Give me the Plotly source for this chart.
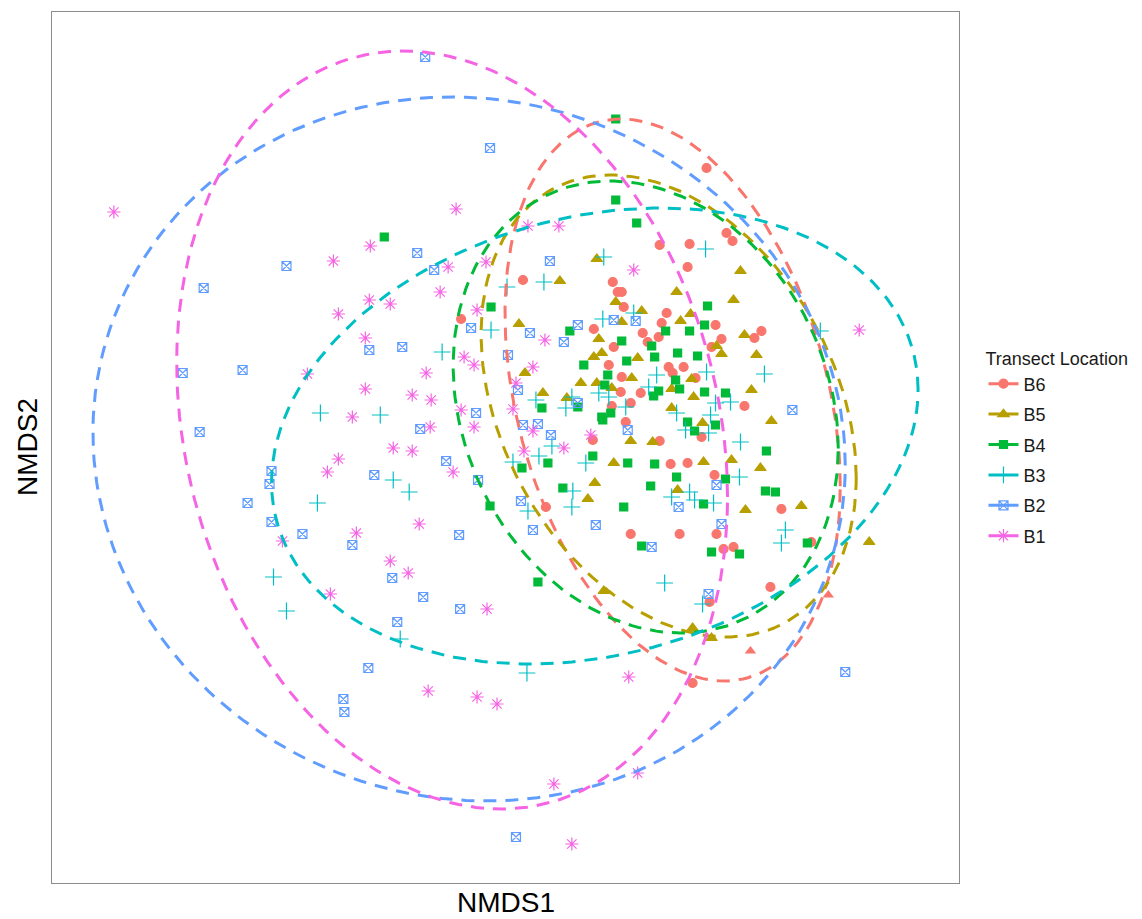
import numpy as np
import plotly.graph_objects as go

# Ordination scores (plot reading units; converted to NMDS units below)
groups = ["B6", "B5", "B4", "B3", "B2", "B1"]
colors = {"B6": "#F8766D", "B5": "#B79F00", "B4": "#00BA38",
          "B3": "#00BFC4", "B2": "#619CFF", "B1": "#F564E3"}
symbols = {"B6": "circle", "B5": "triangle-up", "B4": "square",
           "B3": "cross-thin-open", "B2": "square-x-open", "B1": "asterisk-open"}

b6_x = [708, 728, 734, 661, 691, 524, 614, 619, 462, 595, 615, 610, 613, 689, 623, 625, 668, 663, 644, 649,
        660, 717, 723, 713, 756, 763, 670, 674, 685, 697, 623, 622, 642, 632, 746, 594, 547, 661, 703, 672,
        689, 716, 632, 681, 718, 725, 735, 772, 627, 783, 813, 694, 711]
b6_y = [168, 233, 241, 245, 244, 280, 282, 292, 319, 329, 347, 365, 406, 267, 292, 307, 313, 323, 333, 342,
        337, 325, 339, 347, 338, 331, 367, 373, 367, 378, 377, 392, 393, 403, 406, 440, 507, 441, 437, 464,
        463, 475, 534, 534, 534, 549, 547, 587, 422, 509, 542, 683, 602]
b6_tri_x = [752, 830]
b6_tri_y = [651, 595]

b5_x = [598, 561, 520, 600, 603, 595, 526, 582, 598, 613, 544, 568, 617, 742, 678, 735, 643, 692, 682, 623,
        746, 718, 723, 758, 639, 633, 693, 673, 695, 753, 673, 596, 589, 605, 615, 632, 654, 705, 733, 762,
        679, 747, 704, 773, 803, 871, 694, 713]
b5_y = [259, 281, 324, 339, 353, 357, 373, 383, 383, 388, 393, 398, 302, 271, 292, 300, 311, 314, 321, 322,
        335, 346, 354, 355, 358, 378, 379, 389, 397, 390, 408, 483, 499, 591, 463, 441, 442, 462, 460, 468,
        490, 510, 423, 421, 506, 542, 628, 638]

b4_x = [385, 617, 617, 638, 492, 571, 585, 609, 606, 579, 543, 603, 612, 709, 667, 691, 706, 623, 653, 679,
        656, 699, 628, 677, 681, 660, 706, 727, 655, 594, 549, 523, 564, 491, 539, 604, 689, 696, 717, 768,
        629, 656, 678, 652, 727, 767, 777, 625, 705, 643, 713, 741, 809]
b4_y = [237, 119, 200, 223, 307, 331, 365, 375, 385, 407, 408, 417, 413, 306, 331, 331, 325, 341, 346, 353,
        357, 356, 361, 380, 389, 391, 392, 393, 396, 456, 463, 468, 488, 506, 582, 420, 422, 431, 425, 451,
        463, 464, 477, 486, 479, 491, 492, 507, 504, 546, 552, 554, 543]

b3_x = [443, 321, 381, 394, 410, 318, 274, 287, 401, 707, 605, 545, 508, 492, 604, 537, 567, 573, 600, 610,
        635, 658, 708, 650, 627, 678, 732, 766, 717, 712, 822, 553, 540, 514, 587, 574, 573, 529, 687, 710,
        742, 741, 691, 673, 696, 715, 666, 787, 783, 528, 704]
b3_y = [352, 413, 415, 480, 492, 503, 577, 611, 639, 249, 257, 282, 287, 330, 319, 400, 408, 397, 393, 397,
        313, 375, 372, 387, 407, 413, 402, 374, 403, 415, 331, 446, 456, 462, 463, 491, 507, 511, 430, 433,
        442, 477, 492, 497, 500, 503, 583, 530, 543, 673, 604]

b2_x = [287, 204, 418, 435, 183, 243, 370, 403, 200, 421, 447, 426, 491, 272, 270, 248, 272, 303, 353, 375,
        393, 424, 398, 369, 344, 345, 460, 461, 551, 472, 531, 565, 579, 509, 519, 477, 615, 637, 524, 539,
        552, 479, 522, 534, 597, 629, 718, 680, 723, 653, 710, 794, 847, 517, 579]
b2_y = [266, 288, 253, 270, 373, 370, 350, 347, 432, 429, 461, 57, 148, 471, 484, 503, 522, 534, 545, 475,
        578, 597, 622, 668, 699, 712, 535, 609, 261, 328, 333, 342, 325, 355, 390, 413, 320, 321, 425, 424,
        435, 480, 501, 530, 525, 430, 485, 507, 524, 547, 594, 410, 672, 837, 403]

b1_x = [114, 457, 371, 334, 449, 441, 370, 391, 339, 366, 427, 308, 366, 413, 432, 353, 431, 394, 413, 339,
        328, 454, 420, 357, 283, 391, 409, 331, 429, 487, 478, 546, 465, 475, 534, 517, 514, 462, 635, 861,
        475, 534, 525, 565, 592, 488, 630, 478, 498, 555, 639, 573, 529, 560]
b1_y = [212, 209, 246, 261, 267, 292, 300, 304, 314, 338, 373, 374, 389, 395, 400, 417, 427, 448, 451, 459,
        472, 472, 524, 533, 541, 561, 573, 594, 691, 262, 310, 340, 357, 365, 367, 383, 409, 410, 270, 330,
        427, 431, 451, 448, 435, 609, 677, 697, 704, 784, 773, 844, 226, 226]

points = {"B6": (b6_x, b6_y), "B5": (b5_x, b5_y), "B4": (b4_x, b4_y),
          "B3": (b3_x, b3_y), "B2": (b2_x, b2_y), "B1": (b1_x, b1_y)}

# 95% ellipse shape per group (reading units): centre x, centre y, half-width, half-height, covariance term
ell_cx = {"B6": 674, "B5": 670, "B4": 647, "B3": 596, "B2": 470, "B1": 453}
ell_cy = {"B6": 400, "B5": 406, "B4": 407, "B3": 436, "B2": 449, "B1": 430}
ell_w = {"B6": 168, "B5": 188, "B4": 193, "B3": 324, "B2": 377, "B1": 276}
ell_h = {"B6": 281, "B5": 231, "B4": 226, "B3": 228, "B2": 352, "B1": 379}
ell_c = {"B6": -14500, "B5": -13500, "B4": -8000, "B3": 15000, "B2": -6200, "B1": -18500}

X0, Y0, S = 506.0, 448.0, 400.0


def to_nmds1(v):
    return (np.asarray(v, dtype=float) - X0) / S


def to_nmds2(v):
    return (Y0 - np.asarray(v, dtype=float)) / S


fig = go.Figure()

marker_size = {"B6": 9, "B5": 10, "B4": 8, "B3": 12, "B2": 9, "B1": 11}

# points
for g in groups:
    xs, ys = points[g]
    fig.add_trace(go.Scatter(
        x=to_nmds1(xs), y=to_nmds2(ys), mode="markers", name=g, legendgroup=g, showlegend=False,
        marker=dict(symbol=symbols[g], color=colors[g], size=marker_size[g],
                    line=dict(color=colors[g], width=1.2))))
    if g == "B6":
        fig.add_trace(go.Scatter(
            x=to_nmds1(b6_tri_x), y=to_nmds2(b6_tri_y), mode="markers", legendgroup=g, showlegend=False,
            marker=dict(symbol="triangle-up", color=colors[g], size=10)))

# ellipses
t = np.linspace(0, 2 * np.pi, 200)
for g in groups:
    M = np.array([[ell_w[g] ** 2, ell_c[g]], [ell_c[g], ell_h[g] ** 2]]) / S ** 2
    L = np.linalg.cholesky(M)
    circ = np.vstack([np.cos(t), np.sin(t)])
    e = L @ circ
    ex = (ell_cx[g] - X0) / S + e[0]
    ey = (Y0 - ell_cy[g]) / S + e[1]
    fig.add_trace(go.Scatter(x=ex, y=ey, mode="lines", legendgroup=g, showlegend=False,
                             line=dict(color=colors[g], width=3, dash="13px,9px"), hoverinfo="skip"))

# legend entries (line + marker like ggplot keys)
for g in groups:
    fig.add_trace(go.Scatter(x=[None], y=[None], mode="lines+markers", name=g, legendgroup=g,
                             line=dict(color=colors[g], width=3),
                             marker=dict(symbol=symbols[g], color=colors[g], size=marker_size[g],
                                         line=dict(color=colors[g], width=1.2))))

x_lo, x_hi = (52 - X0) / S, (961 - X0) / S
y_lo, y_hi = (Y0 - 883) / S, (Y0 - 12) / S

fig.update_layout(
    width=1142, height=919, autosize=False,
    margin=dict(l=52, r=181, t=12, b=36),
    paper_bgcolor="white", plot_bgcolor="white",
    font=dict(family="Liberation Sans, Arial, sans-serif", color="#1a1a1a"),
    xaxis=dict(range=[x_lo, x_hi], showgrid=False, zeroline=False, showticklabels=False, ticks="",
               showline=True, mirror=True, linecolor="#8c8c8c", linewidth=1.3),
    yaxis=dict(range=[y_lo, y_hi], showgrid=False, zeroline=False, showticklabels=False, ticks="",
               showline=True, mirror=True, linecolor="#8c8c8c", linewidth=1.3),
    legend=dict(title=dict(text="Transect Location", font=dict(size=18)),
                font=dict(size=18), x=1.027, xanchor="left", y=0.621, yanchor="top",
                traceorder="grouped", tracegroupgap=4, itemwidth=30, bgcolor="rgba(0,0,0,0)"),
    showlegend=True,
    annotations=[
        dict(text="NMDS1", x=0.5, y=-0.022, xref="paper", yref="paper", showarrow=False,
             xanchor="center", yanchor="middle", font=dict(size=28, color="#000000")),
        dict(text="NMDS2", x=-0.027, y=0.5, xref="paper", yref="paper", showarrow=False,
             xanchor="center", yanchor="middle", textangle=-90, font=dict(size=28, color="#000000")),
    ],
)

fig.write_html("out.html")
